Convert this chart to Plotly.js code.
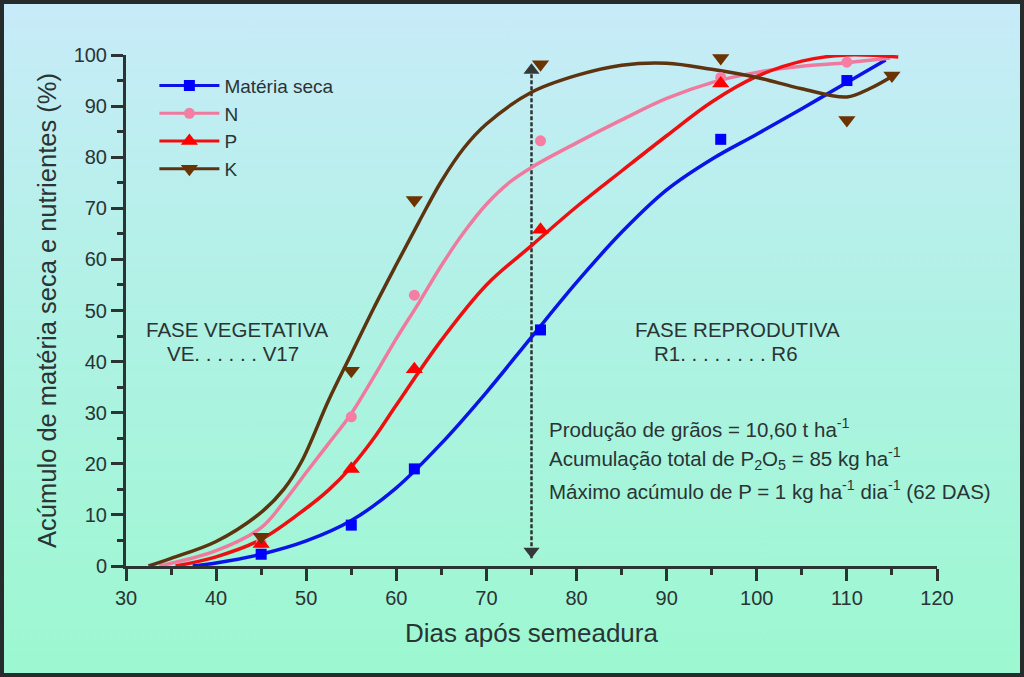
<!DOCTYPE html>
<html>
<head>
<meta charset="utf-8">
<script src="https://cdn.plot.ly/plotly-3.0.1.min.js"></script>
<style>
  html, body { margin: 0; padding: 0; }
  body { width: 1024px; height: 677px; overflow: hidden;
         background: linear-gradient(to bottom, #c8ebf9 0%, #aef2e3 50%, #9cf8d0 100%); }
  #chart { position: absolute; left: 0; top: 0; width: 1024px; height: 677px; }
  #frame { position: absolute; left: 0; top: 0; width: 1024px; height: 677px;
           box-sizing: border-box; border: 4px solid #262b2b; pointer-events: none; }
</style>
</head>
<body>
<div id="chart"></div>
<div id="frame"></div>
<script>
// ---- observed data (days after sowing, % accumulation) ----
const DAYS = [45, 55, 62, 76, 96, 110];
const MS_POINTS = [2.3, 8.0, 19.0, 46.2, 83.5, 95.0];
const N_POINTS  = [4.5, 29.2, 53.0, 83.2, 95.6, 98.6];
const P_DAYS    = [45, 55, 62, 76, 96];
const P_POINTS  = [4.3, 19.0, 38.5, 65.8, 94.4];
const K_DAYS    = [45, 55, 62, 76, 96, 110, 115];
const K_POINTS  = [5.7, 38.2, 71.6, 98.2, 99.4, 87.3, 96.0];

// ---- fitted curves ----
const MS_CURVE_X = [37.4, 40, 45, 50, 55, 60, 65, 70, 75, 80, 85, 90, 95, 100, 105, 110, 114.3];
const MS_CURVE_Y = [0, 0.6, 2.3, 4.9, 8.9, 15.3, 24.0, 34.0, 44.8, 55.5, 65.3, 73.6, 79.6, 84.5, 89.5, 94.6, 99.0];
const N_CURVE_X  = [33.7, 40, 45, 47.5, 50, 52.5, 55, 57.5, 60, 62.5, 65, 67.5, 70, 72.5, 75, 80, 85, 90, 95, 100, 105, 110, 114.8];
const N_CURVE_Y  = [0, 3.0, 7.5, 12.5, 18.3, 24.0, 29.8, 37.0, 44.5, 51.5, 58.8, 65.3, 70.8, 75.0, 78.0, 82.8, 87.3, 91.5, 94.6, 96.6, 97.8, 98.5, 99.4];
const P_CURVE_X  = [35.5, 40, 45, 50, 52.5, 55, 57.5, 60, 65, 70, 75, 80, 85, 90, 95, 100, 105, 110, 115.7];
const P_CURVE_Y  = [0, 1.8, 5.2, 11.3, 14.9, 19.4, 25.0, 31.5, 44.2, 55.0, 62.7, 70.3, 77.3, 84.2, 90.8, 95.8, 98.8, 100.0, 99.6];
const K_CURVE_X  = [32.5, 35, 40, 45, 47.5, 49.5, 52.5, 55, 57.5, 60, 62.5, 65, 67.5, 70, 75, 80, 85, 90, 95, 100, 105, 110, 112.5, 115];
const K_CURVE_Y  = [0, 1.5, 4.8, 10.5, 15.0, 20.5, 32.5, 41.5, 50.5, 59.0, 67.3, 75.3, 81.8, 86.5, 92.7, 96.0, 98.0, 98.4, 97.2, 95.6, 93.4, 91.8, 93.4, 95.8];

// ---- phase divider (R1) ----
const DIVIDER_X = [75, 75];
const DIVIDER_Y = [1.5, 97.5];
const DIVIDER_HEAD_Y = [2.9, 97];

const SERIES_NAMES = ['Matéria seca', 'N', 'P', 'K'];
const X_TICKS = [30, 40, 50, 60, 70, 80, 90, 100, 110, 120];
const Y_TICKS = [0, 10, 20, 30, 40, 50, 60, 70, 80, 90, 100];

const C_MS = '#0a14e6', C_N = '#f07a9e', C_P = '#ee1010', C_K = '#5e3410';
const M_MS = '#0000ff', M_N = '#f77da3', M_P = '#ff0000', M_K = '#6a3300';
const TXT = '#2a3434';
const FONT = 'Liberation Sans, Arial, sans-serif';

function curve(x, y, color) {
  return { x: x, y: y, mode: 'lines', line: { color: color, width: 3.5, shape: 'spline', smoothing: 1 },
           showlegend: false, hoverinfo: 'skip', cliponaxis: false };
}
function pts(x, y, color, symbol, size) {
  return { x: x, y: y, mode: 'markers', marker: { color: color, symbol: symbol, size: size },
           showlegend: false, cliponaxis: false };
}
function leg(name, lc, mc, symbol, size) {
  return { x: [null], y: [null], name: name, mode: 'lines+markers',
           line: { color: lc, width: 3 }, marker: { color: mc, symbol: symbol, size: size } };
}

const data = [
  { x: DIVIDER_X, y: DIVIDER_Y, mode: 'lines', line: { color: '#2e3333', width: 2.5, dash: '4px,2px' },
    showlegend: false, hoverinfo: 'skip' },
  { x: DIVIDER_X, y: DIVIDER_HEAD_Y, mode: 'markers',
    marker: { color: '#333838', symbol: ['triangle-down', 'triangle-up'], size: 14 },
    showlegend: false, hoverinfo: 'skip', cliponaxis: false },
  curve(MS_CURVE_X, MS_CURVE_Y, C_MS),
  curve(N_CURVE_X, N_CURVE_Y, C_N),
  curve(P_CURVE_X, P_CURVE_Y, C_P),
  curve(K_CURVE_X, K_CURVE_Y, C_K),
  pts(DAYS, MS_POINTS, M_MS, 'square', 11),
  pts(DAYS, N_POINTS, M_N, 'circle', 11),
  pts(P_DAYS, P_POINTS, M_P, 'triangle-up', 15),
  pts(K_DAYS, K_POINTS, M_K, 'triangle-down', 15),
  leg(SERIES_NAMES[0], C_MS, M_MS, 'square', 11),
  leg(SERIES_NAMES[1], C_N, M_N, 'circle', 11),
  leg(SERIES_NAMES[2], C_P, M_P, 'triangle-up', 15),
  leg(SERIES_NAMES[3], C_K, M_K, 'triangle-down', 15)
];

const axisCommon = {
  showgrid: false, zeroline: false, showline: true, linecolor: '#2b3333', linewidth: 3,
  ticks: 'outside', ticklen: 12, tickwidth: 3, tickcolor: '#2b3333',
  tickfont: { family: FONT, size: 20, color: TXT }
};

const layout = {
  width: 1024, height: 677,
  margin: { l: 126, r: 87, t: 55, b: 111 },
  paper_bgcolor: 'rgba(0,0,0,0)', plot_bgcolor: 'rgba(0,0,0,0)',
  font: { family: FONT, color: TXT },
  xaxis: Object.assign({}, axisCommon, {
    range: [30, 120], tickvals: X_TICKS,
    minor: { dtick: 5, tick0: 30, ticks: 'outside', ticklen: 6, tickwidth: 3, tickcolor: '#2b3333', showgrid: false },
    title: { text: 'Dias após semeadura', font: { family: FONT, size: 26, color: TXT }, standoff: 16 }
  }),
  yaxis: Object.assign({}, axisCommon, {
    range: [0, 100], tickvals: Y_TICKS,
    minor: { dtick: 5, tick0: 0, ticks: 'outside', ticklen: 6, tickwidth: 3, tickcolor: '#2b3333', showgrid: false },
    title: { text: 'Acúmulo de matéria seca e nutrientes (%)', font: { family: FONT, size: 25.5, color: TXT }, standoff: 10 }
  }),
  showlegend: true,
  legend: {
    x: 0.035, y: 0.977, xanchor: 'left', yanchor: 'top',
    bgcolor: 'rgba(0,0,0,0)', borderwidth: 0, itemwidth: 60,
    font: { family: FONT, size: 19, color: TXT }, tracegroupgap: 0
  },
  annotations: [
    { x: 42.4, y: 46.2, xref: 'x', yref: 'y', text: 'FASE VEGETATIVA', showarrow: false,
      font: { family: FONT, size: 20.5, color: TXT } },
    { x: 34.3, y: 41.5, xref: 'x', yref: 'y', xanchor: 'left', text: 'VE. . . . . . V17', showarrow: false,
      font: { family: FONT, size: 20.5, color: TXT } },
    { x: 97.9, y: 46.2, xref: 'x', yref: 'y', text: 'FASE REPRODUTIVA', showarrow: false,
      font: { family: FONT, size: 20.5, color: TXT } },
    { x: 88.4, y: 41.5, xref: 'x', yref: 'y', xanchor: 'left', text: 'R1. . . . . . . . R6', showarrow: false,
      font: { family: FONT, size: 20.5, color: TXT } },
    { x: 76.7, y: 27.0, xref: 'x', yref: 'y', xanchor: 'left', showarrow: false,
      text: 'Produção de grãos = 10,60 t ha<sup>-1</sup>', font: { family: FONT, size: 20.5, color: TXT } },
    { x: 76.7, y: 21.1, xref: 'x', yref: 'y', xanchor: 'left', showarrow: false,
      text: 'Acumulação total de P<sub>2</sub>O<sub>5</sub> = 85 kg ha<sup>-1</sup>', font: { family: FONT, size: 20.5, color: TXT } },
    { x: 76.7, y: 14.9, xref: 'x', yref: 'y', xanchor: 'left', showarrow: false,
      text: 'Máximo acúmulo de P = 1 kg ha<sup>-1</sup> dia<sup>-1</sup> (62 DAS)', font: { family: FONT, size: 20.5, color: TXT } }
  ]
};

Plotly.newPlot('chart', data, layout, { displayModeBar: false, staticPlot: true });
</script>
</body>
</html>
